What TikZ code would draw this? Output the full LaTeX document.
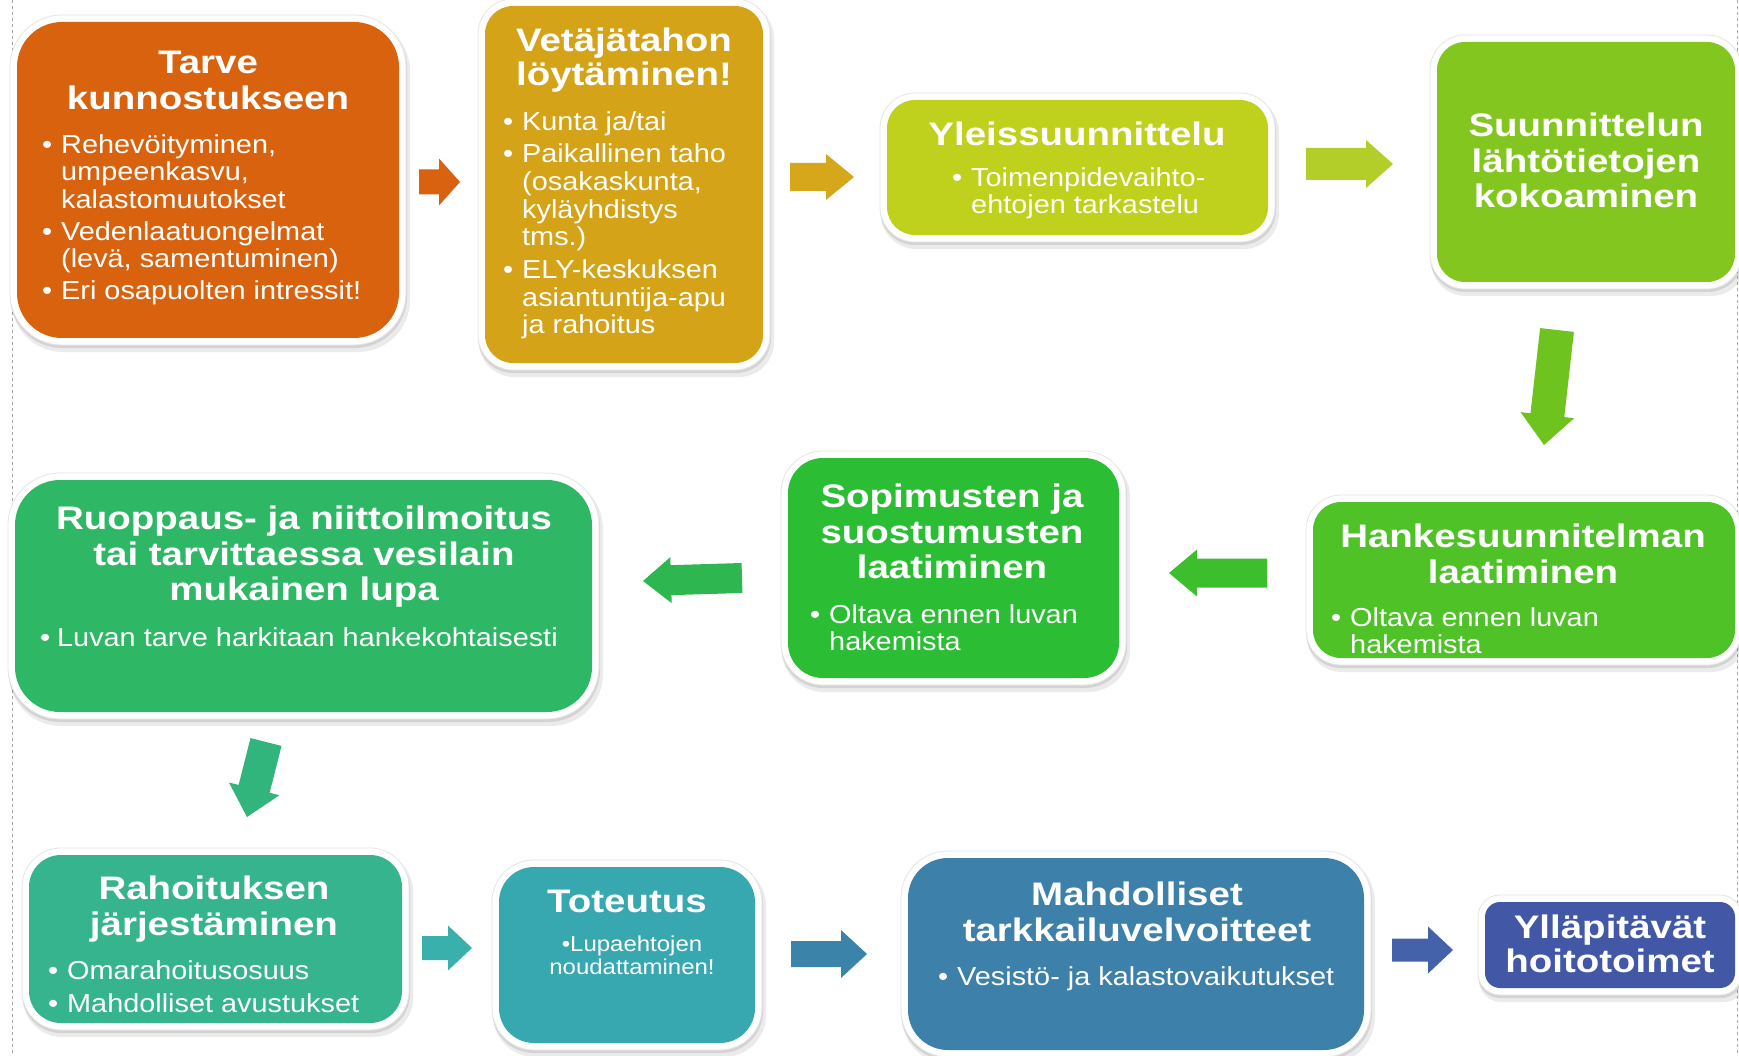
\documentclass[tikz,border=0pt]{standalone}
\usepackage{fontspec}
\setmainfont{Liberation Sans}
\newfontfamily\titlefont{Liberation Sans}[FakeStretch=1.18]
\newfontfamily\itemfont{Liberation Sans}[FakeStretch=1.11]
\usetikzlibrary{calc}

\definecolor{c1}{HTML}{D9620E}
\definecolor{c2}{HTML}{D4A317}
\definecolor{c3}{HTML}{BFD11D}
\definecolor{c4}{HTML}{84C620}
\definecolor{c5}{HTML}{4FC228}
\definecolor{c6}{HTML}{2BBE34}
\definecolor{c7}{HTML}{2EB865}
\definecolor{c8}{HTML}{35B48E}
\definecolor{c9}{HTML}{38A8B0}
\definecolor{c10}{HTML}{3D80AA}
\definecolor{c11}{HTML}{4258A6}
\definecolor{a1}{HTML}{D8620F}
\definecolor{a2}{HTML}{D6A71B}
\definecolor{a3}{HTML}{B4CE29}
\definecolor{a4}{HTML}{6EC31F}
\definecolor{a5}{HTML}{3DBE2C}
\definecolor{a6}{HTML}{2EB750}
\definecolor{a7}{HTML}{31B57C}
\definecolor{a8}{HTML}{3AB0AC}
\definecolor{a9}{HTML}{3C83A9}
\definecolor{a10}{HTML}{4462A9}

\newcommand\ttlbox[1]{\begin{tabular}{@{}c@{}}#1\end{tabular}}
\newcommand\itbox[1]{\begin{tabular}{@{}l@{}l@{}}#1\end{tabular}}
\newcommand\bu{\makebox[19pt][l]{\textbullet}}

\newcommand\mycard[7]{%
  \pgfmathsetmacro\outr{#7+7}%
  \fill[black,opacity=0.08,rounded corners=\outr pt] (#2-6,#3-3) rectangle (#4+11,#5+14);
  \fill[black,opacity=0.10,rounded corners=\outr pt] (#2-7,#3-5) rectangle (#4+8,#5+10);
  \filldraw[fill=white,draw=black!10,line width=0.8pt,rounded corners=\outr pt] (#2-7,#3-7) rectangle (#4+7,#5+7);
  \node[fill=#6,rounded corners=#7pt,inner sep=0pt,minimum width={#4-#2},minimum height={#5-#3}] (#1) at ({(#2+#4)/2},{(#3+#5)/2}) {};
}

\newcommand\barrow[6]{% color, tail, tip, shaft half, head half, head length
  \coordinate (tmpH) at ($(#3)!#6pt!(#2)$);
  \fill[#1] ($(#2)!#4pt!90:(#3)$) -- ($(tmpH)!#4pt!90:(#3)$) -- ($(tmpH)!#5pt!90:(#3)$) -- (#3)
     -- ($(tmpH)!#5pt!-90:(#3)$) -- ($(tmpH)!#4pt!-90:(#3)$) -- ($(#2)!#4pt!-90:(#3)$) -- cycle;
}

\tikzset{
  ttl/.style={anchor=north,inner sep=0pt,text=white,font=\titlefont\bfseries\fontsize{32.6}{35.8}\selectfont},
  ttltight/.style={ttl,font=\titlefont\bfseries\fontsize{32.6}{34.4}\selectfont},
  itm/.style={anchor=north west,inner sep=0pt,text=white,font=\itemfont\fontsize{26}{27.7}\selectfont},
  smallitm/.style={anchor=north,inner sep=0pt,text=white,font=\itemfont\fontsize{21.6}{23}\selectfont},
  edge line/.style={draw=black!35,dashed,line width=1pt}
}

\begin{document}
\begin{tikzpicture}[x=1pt,y=-1pt]
\useasboundingbox (0,0) rectangle (1739,1056);
\fill[white] (0,0) rectangle (1739,1056);
\coordinate (lt) at (12,0); \coordinate (lb) at (12,1056);
\coordinate (rt) at (1737,0); \coordinate (rb) at (1737,1056);
\draw[edge line] (lt) -- (lb);
\draw[edge line] (rt) -- (rb);

% Row 1
\mycard{b1}{17}{22}{399}{338}{c1}{45}
\node[ttl] (t1) at (208,48) {\ttlbox{Tarve\\kunnostukseen}};
\node[itm] (i1) at (42,133.5) {\itbox{\bu & Rehevöityminen,\\ & umpeenkasvu,\\ & kalastomuutokset\\[4pt]
 \bu & Vedenlaatuongelmat\\ & (levä, samentuminen)\\[4pt] \bu & Eri osapuolten intressit!}};

\mycard{b2}{485}{6}{763}{363}{c2}{28}
\node[ttltight] (t2) at (624,27) {\ttlbox{Vetäjätahon\\löytäminen!}};
\node[itm] (i2) at (503,110.5) {\itbox{\bu & Kunta ja/tai\\[5pt] \bu & Paikallinen taho\\ & (osakaskunta,\\ & kyläyhdistys\\ & tms.)\\[5pt]
 \bu & ELY-keskuksen\\ & asiantuntija-apu\\ & ja rahoitus}};

\mycard{b3}{887}{100}{1268}{235}{c3}{28}
\node[ttl] (t3) at (1077,120) {\ttlbox{Yleissuunnittelu}};
\node[itm] (i3) at (952,166.5) {\itbox{\bu & Toimenpidevaihto-\\ & ehtojen tarkastelu}};

\mycard{b4}{1437}{42}{1735}{282}{c4}{28}
\node[ttl] (t4) at (1586,111) {\ttlbox{Suunnittelun\\lähtötietojen\\kokoaminen}};

% Row 2
\mycard{b5}{1313}{502}{1735}{658}{c5}{28}
\node[ttl] (t5) at (1523,522) {\ttlbox{Hankesuunnitelman\\laatiminen}};
\node[itm] (i5) at (1331,606.5) {\itbox{\bu & Oltava ennen luvan\\ & hakemista}};

\mycard{b6}{788}{458}{1119}{678}{c6}{35}
\node[ttl] (t6) at (952,482) {\ttlbox{Sopimusten ja\\suostumusten\\laatiminen}};
\node[itm] (i6) at (810,603.5) {\itbox{\bu & Oltava ennen luvan\\ & hakemista}};

\mycard{b7}{15}{480}{592}{712}{c7}{45}
\node[ttl] (t7) at (304,504) {\ttlbox{Ruoppaus- ja niittoilmoitus\\tai tarvittaessa vesilain\\mukainen lupa}};
\node[itm] (i7) at (40,626.5) {\itbox{\makebox[17pt][l]{\textbullet} & Luvan tarve harkitaan hankekohtaisesti}};

% Row 3
\mycard{b8}{29}{855}{402}{1023}{c8}{32}
\node[ttl] (t8) at (214,874) {\ttlbox{Rahoituksen\\järjestäminen}};
\node[itm] (i8) at (48,959.5) {\itbox{\bu & Omarahoitusosuus\\[6pt] \bu & Mahdolliset avustukset}};

\mycard{b9}{499}{867}{755}{1043}{c9}{35}
\node[ttl] (t9) at (627,887) {\ttlbox{Toteutus}};
\node[smallitm] (i9) at (632,935) {\ttlbox{\textbullet Lupaehtojen\\noudattaminen!}};

\mycard{b10}{908}{858}{1364}{1050}{c10}{40}
\node[ttl] (t10) at (1137,880) {\ttlbox{Mahdolliset\\tarkkailuvelvoitteet}};
\node[itm] (i10) at (938,965.5) {\itbox{\bu & Vesistö- ja kalastovaikutukset}};

\mycard{b11}{1485}{902}{1735}{988}{c11}{15}
\node[ttltight] (t11) at (1610,914) {\ttlbox{Ylläpitävät\\hoitotoimet}};

% Arrows
\coordinate (a1s) at (419,182);  \coordinate (a1e) at (460,182);
\coordinate (a2s) at (790,177);  \coordinate (a2e) at (854,177);
\coordinate (a3s) at (1306,164); \coordinate (a3e) at (1393,164);
\coordinate (a4s) at (1557,330); \coordinate (a4e) at (1544,445);
\coordinate (a5s) at (1267,573); \coordinate (a5e) at (1169,573);
\coordinate (a6s) at (742,578);  \coordinate (a6e) at (643,581);
\coordinate (a7s) at (266,742);  \coordinate (a7e) at (247,817);
\coordinate (a8s) at (422,948);  \coordinate (a8e) at (472,948);
\coordinate (a9s) at (791,954);  \coordinate (a9e) at (867,954);
\coordinate (a10s) at (1392,950); \coordinate (a10e) at (1453,950);

\barrow{a1}{a1s}{a1e}{12.5}{23.5}{21}
\barrow{a2}{a2s}{a2e}{14}{23}{28}
\barrow{a3}{a3s}{a3e}{16}{24}{27}
\barrow{a4}{a4s}{a4e}{17}{27}{30}
\barrow{a5}{a5s}{a5e}{14.5}{23.5}{28}
\barrow{a6}{a6s}{a6e}{15}{23}{28}
\barrow{a7}{a7s}{a7e}{16}{26}{29}
\barrow{a8}{a8s}{a8e}{12}{22.5}{24}
\barrow{a9}{a9s}{a9e}{13}{24}{26}
\barrow{a10}{a10s}{a10e}{11.5}{23.5}{25}
\end{tikzpicture}
\end{document}
